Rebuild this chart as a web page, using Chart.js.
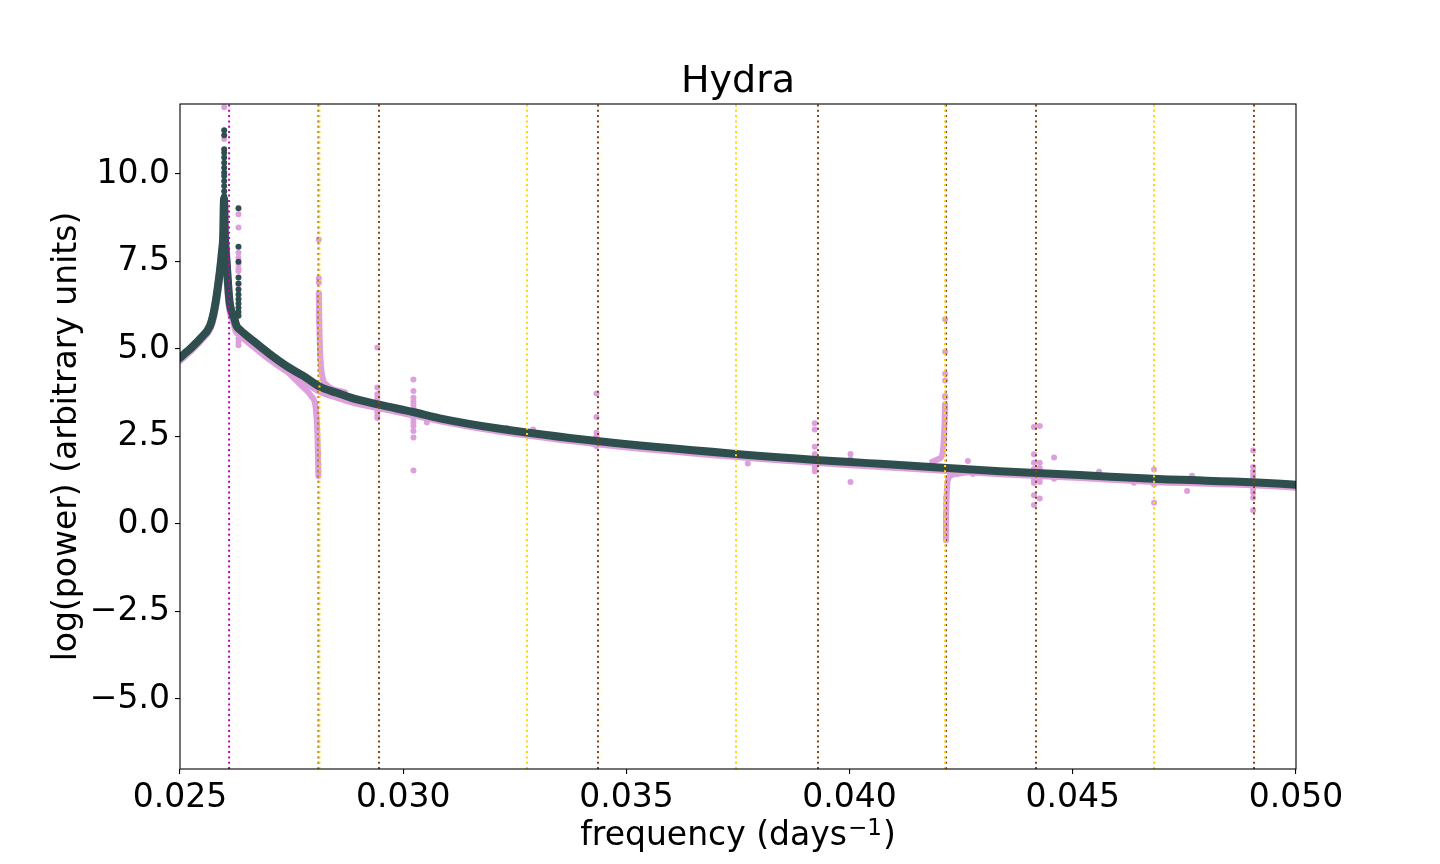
<!DOCTYPE html>
<html><head><meta charset="utf-8">
<script src="https://cdn.jsdelivr.net/npm/chart.js@4.4.0/dist/chart.umd.min.js"></script>
<style>html,body{margin:0;padding:0;background:#fff;}canvas{display:block;}</style>
</head><body>
<canvas id="c" width="1440" height="864" style="width:1440px;height:864px"></canvas>
<script>
const titleText = 'Hydra';
const xLabelMain = 'frequency (days';
const xLabelSup = '\u22121';
const xLabelEnd = ')';
const yLabel = 'log(power) (arbitrary units)';
const xTicks = [0.025, 0.030, 0.035, 0.040, 0.045, 0.050];
const yTicks = [-5, -2.5, 0, 2.5, 5, 7.5, 10];

const magentaLines = [0.02610];
const yellowLines = [0.028125, 0.032773, 0.037455, 0.042137, 0.046819];
const brownLines = [0.028103, 0.029458, 0.034364, 0.039292, 0.042160, 0.044176, 0.049059];

const darkCurveF = [0.025000,0.025112,0.025224,0.025336,0.025448,0.025672,0.025739,0.025802,0.025851,0.025903,0.025941,0.025970,0.025986,0.026004,0.026045,0.026109,0.026210,0.026266,0.026344,0.026642,0.027016,0.027390,0.027762,0.028136,0.028510,0.028808,0.029458,0.030220,0.030820,0.032170,0.034340,0.037390,0.040010,0.040680,0.043370,0.045160,0.046800,0.049930,0.050000];
const darkCurveV = [4.75,4.88,5.00,5.14,5.29,5.66,5.95,6.37,6.80,7.32,7.80,8.28,9.30,8.30,7.47,6.37,5.90,5.66,5.55,5.23,4.85,4.51,4.23,3.92,3.75,3.62,3.41,3.20,3.02,2.72,2.37,2.01,1.77,1.72,1.51,1.40,1.29,1.13,1.12];

const darkDots = [
  [0.02599, [11.25,11.11,10.71,10.61,10.47,10.32,10.18,10.04,9.94,9.80,9.66,9.51,9.37]],
  [0.02631, [9.02,7.92,7.49,7.04,6.87,6.70,6.56,6.42,6.30,6.18,6.06,5.95]]
];

const pinkCurveF = [0.025000,0.025112,0.025224,0.025336,0.025448,0.025672,0.025739,0.025802,0.025851,0.025903,0.025941,0.025970,0.025986,0.026004,0.026045,0.026109,0.026210,0.026266,0.026344,0.026642,0.027016,0.027390,0.027762,0.028136,0.028510,0.028808,0.029458,0.030220,0.030820,0.032170,0.034340,0.037390,0.040010,0.040680,0.043370,0.045160,0.046800,0.049930,0.050000];
const pinkCurveV = [4.69,4.82,4.95,5.09,5.24,5.61,5.90,6.32,6.75,7.27,7.75,8.23,9.20,8.20,7.38,6.27,5.78,5.52,5.42,5.10,4.72,4.39,4.11,3.80,3.64,3.52,3.33,3.13,2.96,2.66,2.31,1.95,1.71,1.66,1.45,1.34,1.23,1.07,1.06];

const spikeALowerF = [0.02740,0.02770,0.02795,0.02804,0.02808,0.02810];
const spikeALowerV = [4.36,3.98,3.64,3.32,2.50,1.42];
const spikeAUpperF = [0.02811,0.02813,0.02817,0.02829,0.02870];
const spikeAUpperV = [6.60,5.23,4.37,3.97,3.76];
const spikeBUpperF = [0.04185,0.04200,0.04208,0.04211,0.04213,0.04214];
const spikeBUpperV = [1.78,1.86,2.00,2.40,3.00,3.40];
const spikeBLowerF = [0.04216,0.04216,0.04218,0.04222,0.04235,0.04263,0.04303];
const spikeBLowerV = [-0.45,0.30,1.00,1.33,1.42,1.48,1.53];

const pinkDots = [
  [0.02599, [11.91,11.0]],
  [0.02631, [8.85,8.47,7.75,7.61,7.43,7.30,7.23,6.85,5.30,5.20,5.11]],
  [0.02811, [8.13,7.02,6.90,6.57,6.45,6.37,6.09,5.95,5.80]],
  [0.02810, [2.00,1.71,1.51,1.37]],
  [0.02942, [5.04,3.90,3.71,3.60,3.50,3.40,3.30,3.20,3.10,3.03]],
  [0.03023, [4.13,3.80,3.61,3.50,3.40,3.30,3.20,3.10,3.00,2.90,2.80,2.66,2.47,1.53]],
  [0.03053, [2.90]],
  [0.03232, [2.74]],
  [0.03291, [2.70]],
  [0.03433, [3.73,3.06,2.61,2.51,2.45,2.23]],
  [0.03772, [1.73]],
  [0.03922, [2.88,2.70,2.21,2.00,1.90,1.80,1.70,1.60,1.51]],
  [0.04002, [2.00,1.86,1.20]],
  [0.04214, [5.85,4.92,4.29,4.10,3.66,3.62,3.42,3.33,3.14]],
  [0.04216, [0.75,0.57,0.29,0.09,-0.20,-0.34,-0.46]],
  [0.04265, [1.80]],
  [0.04276, [1.43]],
  [0.04413, [2.77,1.99,1.75,1.57,1.45,1.35,1.25,1.17,0.82,0.54]],
  [0.04426, [2.80,1.75,1.60,1.50,1.30,1.20,0.73]],
  [0.04458, [1.90,1.29]],
  [0.04559, [1.49]],
  [0.04637, [1.18]],
  [0.04682, [1.56,1.13,0.61]],
  [0.04756, [0.94]],
  [0.04767, [1.38]],
  [0.04904, [2.10,1.63,1.51,1.40,1.30,1.20,1.10,1.00,0.90,0.75,0.39]]
];

const DARK = '#2F4F4F', PINK = '#DDA0DD', YELLOW = '#FFD700', BROWN = '#8B4513', MAGENTA = '#BF00BF';
const Y_MIN = -7, Y_MAX = 12;

const pts = (fs, vs) => fs.map((f, i) => ({x: f, y: vs[i]}));
const groupPts = g => g.flatMap(([f, vs]) => vs.map(v => ({x: f, y: v})));
const vline = (f, color) => ({data: [{x: f, y: Y_MIN}, {x: f, y: Y_MAX}], showLine: true, borderColor: color,
  borderWidth: 2, borderDash: [2, 3.3], borderCapStyle: 'butt', pointRadius: 0, clip: 0, order: 0});
const thick = (data, color, w, order) => ({data, showLine: true, borderColor: color, borderWidth: w,
  borderCapStyle: 'round', borderJoinStyle: 'round', cubicInterpolationMode: 'monotone', pointRadius: 0, clip: 0, order});
const dots = (data, color, order) => ({data, showLine: false, backgroundColor: color, borderWidth: 0,
  pointRadius: 3, clip: 0, order});

const datasets = [
  ...magentaLines.map(f => vline(f, MAGENTA)),
  ...yellowLines.map(f => vline(f, YELLOW)),
  ...brownLines.map(f => vline(f, BROWN)),
  dots(groupPts(darkDots), DARK, 1),
  thick(pts(darkCurveF, darkCurveV), DARK, 8, 1),
  dots(groupPts(pinkDots), PINK, 2),
  thick(pts(spikeALowerF, spikeALowerV), PINK, 6, 2),
  thick(pts(spikeAUpperF, spikeAUpperV), PINK, 6, 2),
  thick(pts(spikeBUpperF, spikeBUpperV), PINK, 6, 2),
  thick(pts(spikeBLowerF, spikeBLowerV), PINK, 6, 2),
  thick(pts(pinkCurveF, pinkCurveV), PINK, 8, 2)
];

const FONT = 'DejaVu Sans';
Chart.defaults.font.family = FONT;
Chart.defaults.color = '#000';

const decor = {
  id: 'decor',
  afterDatasetsDraw(chart) {
    const {ctx, chartArea: a} = chart;
    ctx.save();
    ctx.strokeStyle = '#000';
    ctx.lineWidth = 1.1;
    ctx.strokeRect(a.left, a.top, a.right - a.left, a.bottom - a.top);
    ctx.restore();
  },
  afterDraw(chart) {
    const {ctx, chartArea: a} = chart;
    const cx = (a.left + a.right) / 2;
    ctx.save();
    ctx.fillStyle = '#000';
    ctx.textBaseline = 'alphabetic';
    ctx.textAlign = 'center';
    ctx.font = '38px "DejaVu Sans"';
    ctx.fillText(titleText, cx, 91.5);
    ctx.textAlign = 'left';
    ctx.font = '33px "DejaVu Sans"';
    const w1 = ctx.measureText(xLabelMain).width;
    const w3 = ctx.measureText(xLabelEnd).width;
    ctx.font = '23px "DejaVu Sans"';
    const w2 = ctx.measureText(xLabelSup).width;
    let x0 = cx - (w1 + w2 + w3 + 2) / 2;
    ctx.font = '33px "DejaVu Sans"';
    ctx.fillText(xLabelMain, x0, 845);
    ctx.font = '23px "DejaVu Sans"';
    ctx.fillText(xLabelSup, x0 + w1 + 1, 835);
    ctx.font = '33px "DejaVu Sans"';
    ctx.fillText(xLabelEnd, x0 + w1 + w2 + 2, 845);
    ctx.restore();
  }
};

new Chart(document.getElementById('c'), {
  type: 'scatter',
  data: {datasets},
  plugins: [decor],
  options: {
    responsive: false, animation: false, devicePixelRatio: 1,
    layout: {padding: {left: 0, right: 144, top: 104, bottom: 0}},
    plugins: {legend: {display: false}, tooltip: {enabled: false}, title: {display: false}},
    scales: {
      x: {
        type: 'linear', min: 0.025, max: 0.05,
        afterBuildTicks: s => { s.ticks = xTicks.map(v => ({value: v})); },
        afterFit: s => { s.height = 95; },
        ticks: {callback: v => v.toFixed(3), font: {size: 33}, color: '#000', padding: 5, maxRotation: 0, autoSkip: false},
        grid: {display: true, drawOnChartArea: false, drawTicks: true, tickLength: 5, color: '#000', lineWidth: 1.1},
        border: {display: false},
        title: {display: false}
      },
      y: {
        type: 'linear', min: Y_MIN, max: Y_MAX,
        afterBuildTicks: s => { s.ticks = yTicks.map(v => ({value: v})); },
        afterFit: s => { s.width = 180; },
        ticks: {callback: v => v.toFixed(1).replace('-', '\u2212'), font: {size: 33}, color: '#000', padding: 5, autoSkip: false},
        grid: {display: true, drawOnChartArea: false, drawTicks: true, tickLength: 5, color: '#000', lineWidth: 1.1},
        border: {display: false},
        title: {display: true, text: yLabel, color: '#000', font: {size: 33, lineHeight: 1.2}, padding: {top: 48, bottom: 0}}
      }
    }
  }
});
</script>
</body></html>
